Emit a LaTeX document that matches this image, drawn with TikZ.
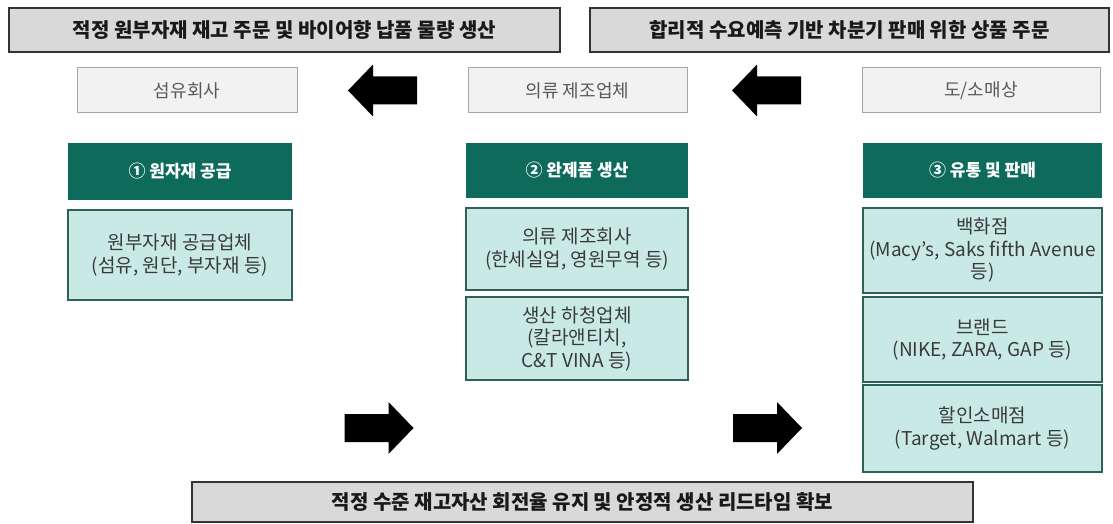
\documentclass[tikz,border=0pt]{standalone}
\usepackage{fontspec}
\setmainfont{Noto Sans CJK KR}
\usetikzlibrary{calc}
\definecolor{bannerfill}{HTML}{D9D9D9}
\definecolor{bannerline}{HTML}{333333}
\definecolor{compfill}{HTML}{F2F2F2}
\definecolor{compline}{HTML}{A6A6A6}
\definecolor{headfill}{HTML}{0E6B5C}
\definecolor{subfill}{HTML}{C9EAE4}
\definecolor{subline}{HTML}{2F6158}
\definecolor{subtext}{HTML}{3A3A3A}
\begin{document}
\begin{tikzpicture}[x=1pt,y=1pt,
  every node/.style={inner sep=0pt, outer sep=0pt, anchor=north west, align=center},
  bannerbox/.style={draw=bannerline, line width=1.6pt, fill=bannerfill, text=black!90, font=\bfseries\fontsize{20}{24}\selectfont},
  companybox/.style={draw=compline, line width=1pt, fill=compfill, text=black!65, font=\fontsize{18}{22}\selectfont, minimum height=45pt},
  headbox/.style={fill=headfill, text=white, font=\bfseries\fontsize{17}{20}\selectfont},
  subbox/.style={draw=subline, line width=1.2pt, fill=subfill, text=subtext, font=\fontsize{19}{22.5}\selectfont},
  pics/blockarrow/.style={code={\fill[black] (-34.5,0) -- ++(25,26) -- ++(0,-12) -- ++(44,0) -- ++(0,-28) -- ++(-44,0) -- ++(0,-12) -- cycle;}}
]
\useasboundingbox (0,0) rectangle (1113,-524);
% top banners
\node[bannerbox, minimum width=551pt, minimum height=44pt] (bl) at (9,-8) {적정 원부자재 재고 주문 및 바이어향 납품 물량 생산};
\node[bannerbox, minimum width=519pt, minimum height=44pt] (br) at (590,-8) {합리적 수요예측 기반 차분기 판매 위한 상품 주문};
% company boxes
\node[companybox, minimum width=220pt] (c1) at (77,-68) {섬유회사};
\node[companybox, minimum width=219pt] (c2) at (468,-68) {의류 제조업체};
\node[companybox, minimum width=238pt] (c3) at (862,-68) {도/소매상};
% headers
\node[headbox, minimum width=224pt, minimum height=57pt] (h1) at (68,-143) {① 원자재 공급};
\node[headbox, minimum width=222pt, minimum height=55pt] (h2) at (466,-143) {② 완제품 생산};
\node[headbox, minimum width=239pt, minimum height=55pt] (h3) at (863,-143) {③ 유통 및 판매};
% sub boxes
\node[subbox, minimum width=224pt, minimum height=90pt] (s1) at (68,-210) {원부자재 공급업체\\(섬유, 원단, 부자재 등)};
\node[subbox, minimum width=222pt, minimum height=82pt] (s2a) at (466,-208) {의류 제조회사\\(한세실업, 영원무역 등)};
\node[subbox, minimum width=222pt, minimum height=83pt] (s2b) at (466,-297) {생산 하청업체\\(칼라앤티치,\\C\&T VINA 등)};
\node[subbox, minimum width=239pt, minimum height=85pt] (s3a) at (863,-208) {백화점\\(Macy's, Saks fifth Avenue\\등)};
\node[subbox, minimum width=239pt, minimum height=85pt] (s3b) at (863,-297) {브랜드\\(NIKE, ZARA, GAP 등)};
\node[subbox, minimum width=239pt, minimum height=87pt] (s3c) at (863,-385) {할인소매점\\(Target, Walmart 등)};
% bottom banner
\node[bannerbox, minimum width=781pt, minimum height=40pt] (bb) at (192,-482) {적정 수준 재고자산 회전율 유지 및 안정적 생산 리드타임 확보};
% block arrows
\coordinate (la1) at ($(c1.east)!0.5!(c2.west)$);
\coordinate (la2) at ($(c2.east)!0.5!(c3.west)+(-8,0)$);
\coordinate (lvl) at (0,-428);
\coordinate (ra1) at ($(h1.east)!0.5!(h2.west)$);
\coordinate (ra2) at ($(h2.east)!0.5!(h3.west)+(-8,0)$);
\pic at (la1) {blockarrow};
\pic at (la2) {blockarrow};
\pic[rotate=180] at (ra1 |- lvl) {blockarrow};
\pic[rotate=180] at (ra2 |- lvl) {blockarrow};
\end{tikzpicture}
\end{document}
